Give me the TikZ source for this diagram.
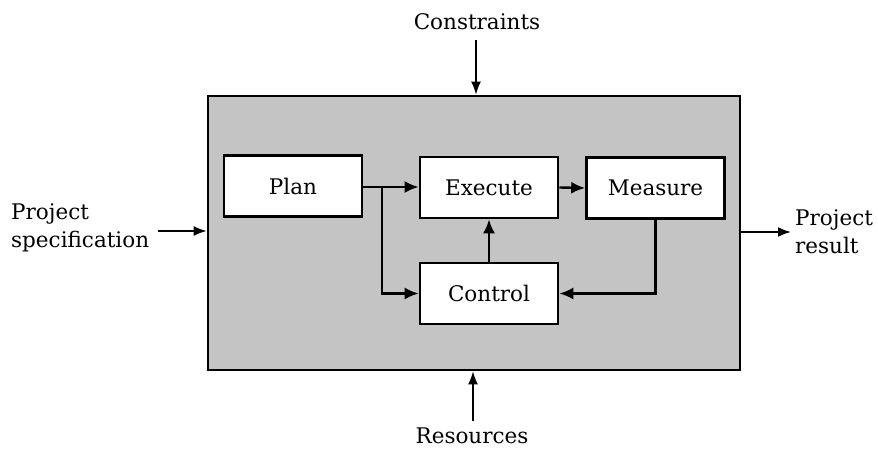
\documentclass[tikz,border=0pt]{standalone}
\usepackage{fontspec}
\setmainfont{DejaVu Serif}
\usetikzlibrary{arrows.meta}
\definecolor{panelgray}{RGB}{196,196,196}
\begin{document}
\begin{tikzpicture}[x=1pt,y=-1pt,
  lbl/.style={font=\fontsize{21.5}{28}\selectfont,inner sep=1pt},
  stage/.style={draw=black,line width=2.6pt,fill=white,minimum width=138pt,minimum height=61pt,inner sep=0pt,font=\fontsize{21.5}{26}\selectfont},
  flow/.style={line width=2.4pt,-{Latex[length=14pt,width=12pt]}},
  io/.style={line width=1.8pt,-{Latex[length=13pt,width=10pt]}}]
\useasboundingbox (0,0) rectangle (878,449);
% enclosing process panel
\node[draw=black,line width=2.6pt,fill=panelgray,minimum width=532pt,minimum height=274pt,inner sep=0pt] (panel) at (474,233) {};
% stages
\node[stage] (plan) at (293,186) {Plan};
\node[stage] (exec) at (489,187.5) {Execute};
\node[stage] (meas) at (655.5,188) {Measure};
\node[stage] (ctrl) at (489,293.5) {Control};
% inputs and outputs
\node[lbl] (cons) at (477,22) {Constraints};
\node[lbl] (res) at (472,435.5) {Resources};
\node[lbl,align=left,anchor=west] (spec) at (10,228) {Project\\specification};
\node[lbl,align=left,anchor=west] (result) at (794,232) {Project\\result};
\coordinate (consEnd) at (476,40);
\coordinate (resEnd) at (473,421);
\coordinate (specEnd) at (158,231);
\coordinate (resultEnd) at (791,232);
\draw[io] (consEnd) -- (consEnd |- panel.north);
\draw[io] (resEnd) -- (resEnd |- panel.south);
\draw[io] (specEnd) -- (specEnd -| panel.west);
\draw[io] (panel.east |- resultEnd) -- (resultEnd);
% internal flows
\coordinate (split) at (382,187);
\draw[flow] (plan.east |- split) -- (exec.west |- split);
\draw[flow] (split) |- (ctrl.west);
\draw[flow] (exec.east) -- (meas.west);
\draw[flow] (ctrl.north) -- (exec.south);
\draw[flow] (meas.south) |- (ctrl.east);
\end{tikzpicture}
\end{document}
